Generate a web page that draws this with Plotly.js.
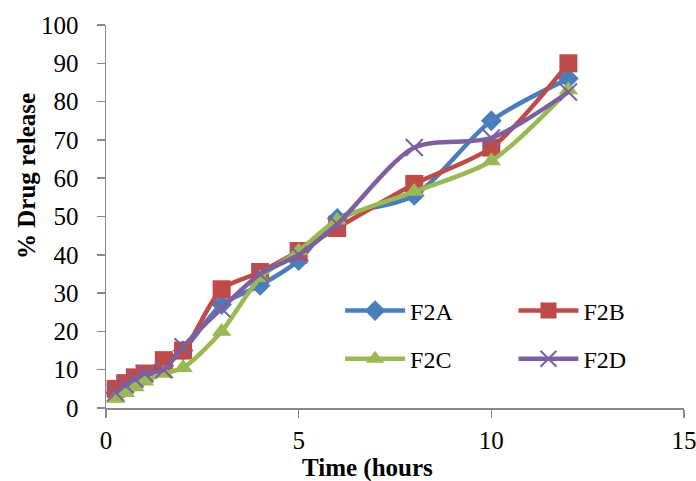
<!DOCTYPE html>
<html>
<head>
<meta charset="utf-8">
<script src="https://cdn.plot.ly/plotly-3.0.1.min.js"></script>
<style>html,body{margin:0;padding:0;background:#fff;}#chart{width:696px;height:481px;}</style>
</head>
<body>
<div id="chart"></div>
<script>
const timeHours = [0.25, 0.5, 0.75, 1, 1.5, 2, 3, 4, 5, 6, 8, 10, 12];
const f2a = [4, 5.5, 7, 8.5, 11, 15, 27, 32, 38.5, 49.5, 55.5, 75, 86];
const f2b = [5, 6.5, 8, 9, 12.5, 15, 31, 35.5, 41, 47, 58.5, 68, 90];
const f2c = [2.5, 4, 5.5, 7, 9, 10.5, 20, 34, 41, 49, 56.5, 64.5, 83];
const f2d = [4, 6, 7.5, 9, 10, 16, 26, 35, 40, 48, 68, 70.5, 82.5];
const seriesNames = ['F2A', 'F2B', 'F2C', 'F2D'];
const xTitle = 'Time (hours';
const yTitle = '% Drug release';
const colors = ['#4a7ebb', '#be4b48', '#98b954', '#7d60a0'];
const symbols = ['diamond', 'square', 'triangle-up', 'x-thin-open'];
const sizes = [16, 18, 17, 17];
const legendIds = ['legend', 'legend2', 'legend', 'legend2'];
const data = [f2a, f2b, f2c, f2d];

const traces = data.map((ys, i) => ({
  x: timeHours, y: ys, name: seriesNames[i], type: 'scatter', mode: 'lines+markers',
  legend: legendIds[i], legendgroup: seriesNames[i],
  line: {color: colors[i], width: 4.5, shape: 'spline', smoothing: 0.8},
  marker: {symbol: symbols[i], size: sizes[i], color: colors[i], line: {color: colors[i], width: i === 3 ? 2 : 0}}
}));

const fam = '"Times New Roman", "Liberation Serif", Times, serif';
const mk = (size) => ({family: fam, size: size, color: '#000'});
const legBase = {orientation: 'v', yanchor: 'top', xanchor: 'left', tracegroupgap: 14,
  itemwidth: 60, font: mk(24), bgcolor: 'rgba(0,0,0,0)'};
const layout = {
  width: 696, height: 481,
  margin: {l: 106, r: 12, t: 25, b: 73},
  paper_bgcolor: '#fff', plot_bgcolor: '#fff',
  font: mk(24),
  showlegend: true,
  legend: Object.assign({x: 0.405, y: 0.312}, legBase),
  legend2: Object.assign({x: 0.705, y: 0.312}, legBase),
  xaxis: {range: [0, 15], dtick: 5, tick0: 0, showgrid: false, zeroline: false,
    showline: true, linecolor: '#898989', linewidth: 1.5,
    ticks: 'outside', ticklen: 8, tickcolor: '#898989', tickwidth: 1.5,
    ticklabelstandoff: 1, ticklabeloverflow: 'allow',
    tickfont: mk(25)},
  yaxis: {range: [0, 100], dtick: 10, tick0: 0, showgrid: false, zeroline: false,
    showline: true, linecolor: '#898989', linewidth: 1.5,
    ticks: 'outside', ticklen: 8, tickcolor: '#898989', tickwidth: 1.5,
    ticklabelstandoff: 13, ticklabeloverflow: 'allow',
    tickfont: mk(25)},
  annotations: [
    {text: '<b>' + xTitle + '</b>', xref: 'paper', yref: 'paper',
      x: (367 - 106) / 578, y: -(468 - 408) / 383, xanchor: 'center', yanchor: 'middle',
      showarrow: false, font: mk(25)},
    {text: '<b>' + yTitle + '</b>', xref: 'paper', yref: 'paper', textangle: -90,
      x: (26 - 106) / 578, y: (408 - 176) / 383, xanchor: 'center', yanchor: 'middle',
      showarrow: false, font: mk(25)}
  ]
};
Plotly.newPlot('chart', traces, layout, {displayModeBar: false, staticPlot: true});
</script>
</body>
</html>
